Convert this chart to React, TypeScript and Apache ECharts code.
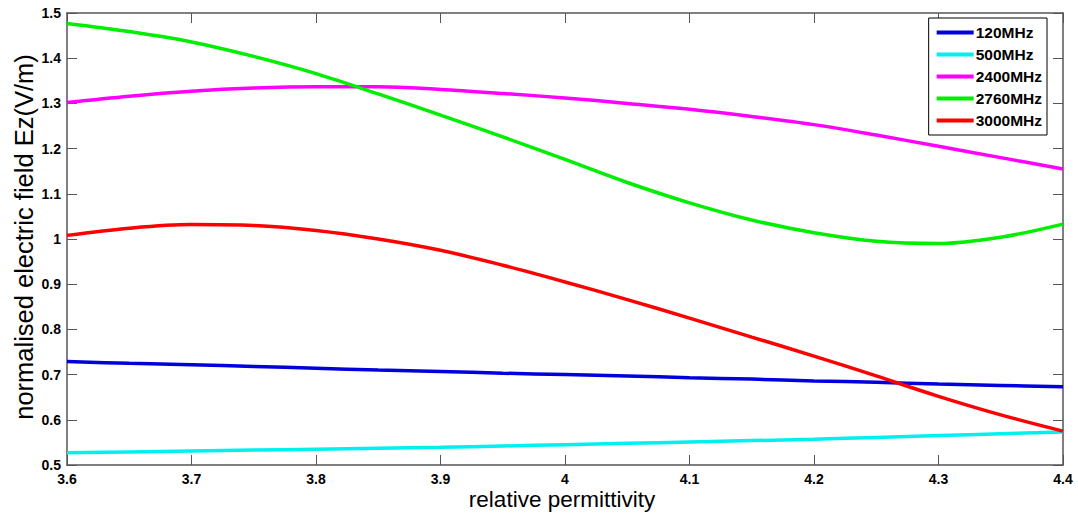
import React, { useEffect, useRef } from "react";
import * as echarts from "echarts";

const permittivity = [3.6, 3.65, 3.7, 3.75, 3.8, 3.85, 3.9, 3.95, 4.0, 4.05, 4.1, 4.15, 4.2, 4.25, 4.3, 4.35, 4.4];

const s120 = [0.729, 0.725, 0.722, 0.718, 0.714, 0.71, 0.707, 0.703, 0.7, 0.697, 0.693, 0.69, 0.686, 0.683, 0.679, 0.676, 0.673];
const s500 = [0.527, 0.529, 0.531, 0.533, 0.535, 0.537, 0.539, 0.542, 0.545, 0.548, 0.551, 0.554, 0.557, 0.561, 0.565, 0.569, 0.573];
const s2400 = [1.302, 1.316, 1.327, 1.334, 1.337, 1.337, 1.331, 1.322, 1.312, 1.3, 1.287, 1.271, 1.253, 1.23, 1.205, 1.18, 1.155];
const s2760 = [1.477, 1.459, 1.436, 1.404, 1.366, 1.321, 1.274, 1.226, 1.176, 1.125, 1.08, 1.042, 1.014, 0.995, 0.99, 1.004, 1.033];
const s3000 = [1.008, 1.024, 1.032, 1.03, 1.019, 1.0, 0.975, 0.942, 0.905, 0.866, 0.825, 0.783, 0.741, 0.697, 0.652, 0.611, 0.575];

const seriesNames = ["120MHz", "500MHz", "2400MHz", "2760MHz", "3000MHz"];
const seriesValues = [s120, s500, s2400, s2760, s3000];
const seriesColors = ["#0000dc", "#00f0f0", "#ff00ff", "#00ee00", "#ff0000"];

const xTitle = "relative permittivity";
const yTitle = "normalised electric field Ez(V/m)";

export default function App() {
  const ref = useRef<HTMLDivElement>(null);
  useEffect(() => {
    if (!ref.current) return;
    const chart = echarts.init(ref.current, undefined, { renderer: "svg" });
    const axisColor = "#555555";
    const fmt = (v: number) => String(+(+v).toFixed(1));
    const labelStyle = { color: "#000", fontWeight: "bold" as const, fontSize: 14, fontFamily: "Liberation Sans, Arial, sans-serif" };
    chart.setOption({
      animation: false,
      backgroundColor: "#ffffff",
      grid: { left: 67, top: 13, right: 15, bottom: 51, containLabel: false },
      xAxis: [
        {
          type: "value", min: 3.6, max: 4.4, interval: 0.1, position: "bottom",
          axisLine: { show: true, onZero: false, lineStyle: { color: axisColor, width: 1.5 } },
          axisTick: { show: true, inside: true, length: 10, lineStyle: { color: axisColor, width: 1 } },
          axisLabel: { ...labelStyle, margin: 7, formatter: fmt },
          splitLine: { show: false },
        },
        {
          type: "value", min: 3.6, max: 4.4, interval: 0.1, position: "top",
          axisLine: { show: true, onZero: false, lineStyle: { color: axisColor, width: 1.5 } },
          axisTick: { show: true, inside: true, length: 10, lineStyle: { color: axisColor, width: 1 } },
          axisLabel: { show: false },
          splitLine: { show: false },
        },
      ],
      yAxis: [
        {
          type: "value", min: 0.5, max: 1.5, interval: 0.1, position: "left",
          axisLine: { show: true, onZero: false, lineStyle: { color: axisColor, width: 1.5 } },
          axisTick: { show: true, inside: true, length: 10, lineStyle: { color: axisColor, width: 1 } },
          axisLabel: { ...labelStyle, margin: 6, formatter: fmt },
          splitLine: { show: false },
        },
        {
          type: "value", min: 0.5, max: 1.5, interval: 0.1, position: "right",
          axisLine: { show: true, onZero: false, lineStyle: { color: axisColor, width: 1.5 } },
          axisTick: { show: true, inside: true, length: 10, lineStyle: { color: axisColor, width: 1 } },
          axisLabel: { show: false },
          splitLine: { show: false },
        },
      ],
      legend: {
        orient: "vertical",
        right: 31,
        top: 18,
        backgroundColor: "#ffffff",
        borderColor: "#000000",
        borderWidth: 1,
        borderRadius: 0,
        padding: [6, 5, 6, 8],
        itemWidth: 37,
        itemHeight: 4,
        itemGap: 5,
        icon: "rect",
        data: seriesNames,
        textStyle: { color: "#000", fontWeight: "bold", fontSize: 15.5, lineHeight: 17, fontFamily: "Liberation Sans, Arial, sans-serif", padding: [0, 0, 0, -3] },
      },
      series: seriesNames.map((name, i) => ({
        name,
        type: "line",
        data: permittivity.map((x, j) => [x, seriesValues[i][j]]),
        smooth: 0.35,
        showSymbol: false,
        symbol: "none",
        color: seriesColors[i],
        lineStyle: { width: 3.5, color: seriesColors[i] },
        z: 2,
      })),
      graphic: [
        {
          type: "text", x: 562, y: 499,
          style: { text: xTitle, fontSize: 22.5, fontFamily: "Liberation Sans, Arial, sans-serif", fill: "#000", textAlign: "center", textVerticalAlign: "middle" },
        },
        {
          type: "text", x: 24, y: 237, rotation: Math.PI / 2,
          style: { text: yTitle, fontSize: 25.5, fontFamily: "Liberation Sans, Arial, sans-serif", fill: "#000", textAlign: "center", textVerticalAlign: "middle" },
        },
      ],
    });
    return () => chart.dispose();
  }, []);
  return <div ref={ref} style={{ position: "fixed", left: 0, top: 0, width: 1078, height: 516, background: "#fff" }} />;
}
